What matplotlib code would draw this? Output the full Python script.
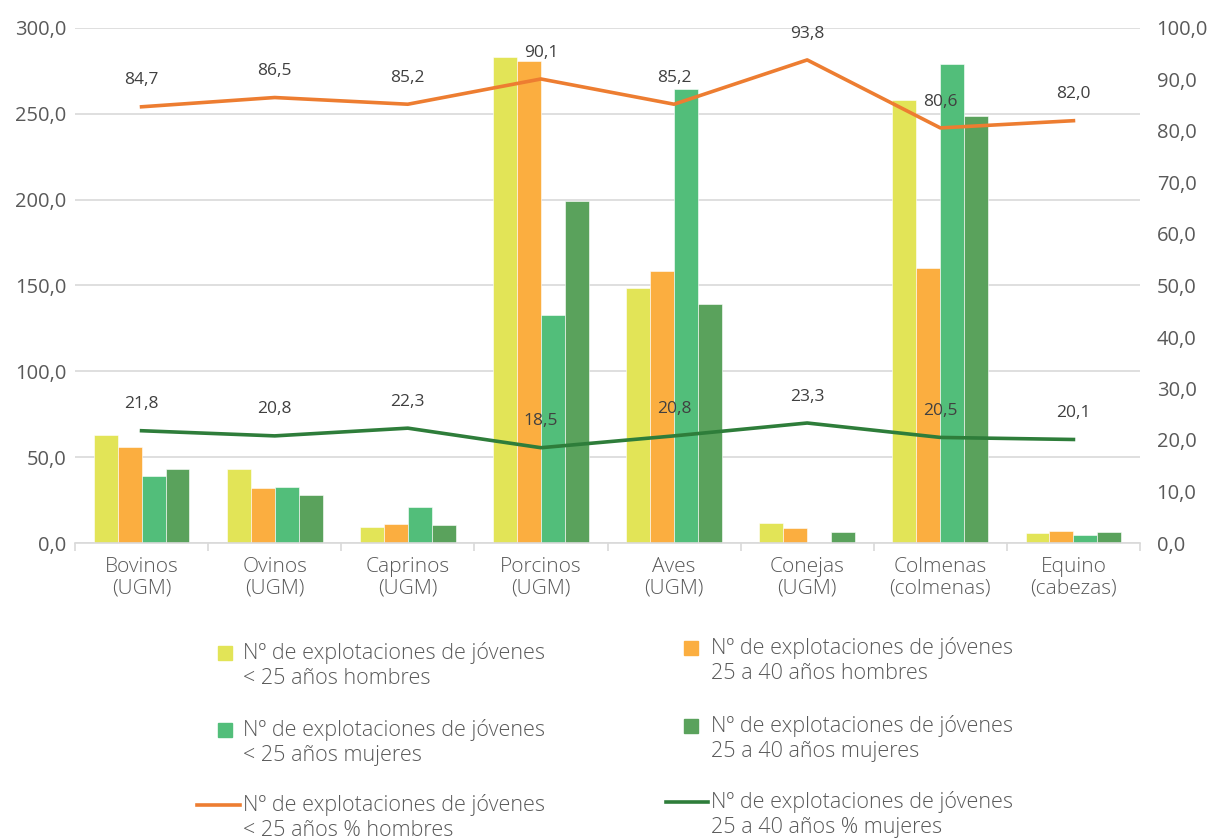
import matplotlib.pyplot as plt
import numpy as np
from matplotlib.patches import Rectangle
from matplotlib.lines import Line2D

plt.rcParams['font.family'] = ['Open Sans', 'DejaVu Sans']

categorias = ["Bovinos\n(UGM)", "Ovinos\n(UGM)", "Caprinos\n(UGM)", "Porcinos\n(UGM)",
              "Aves\n(UGM)", "Conejas\n(UGM)", "Colmenas\n(colmenas)", "Equino\n(cabezas)"]

menos25_hombres = [63.0, 43.1, 9.5, 283.0, 148.5, 11.7, 258.0, 5.6]
de25a40_hombres = [56.0, 31.8, 11.1, 280.6, 158.4, 8.7, 160.2, 6.8]
menos25_mujeres = [38.8, 32.4, 21.0, 132.8, 264.5, 0.0, 279.0, 4.7]
de25a40_mujeres = [43.1, 28.2, 10.5, 199.2, 139.2, 6.2, 248.7, 6.2]

pct_hombres = [84.7, 86.5, 85.2, 90.1, 85.2, 93.8, 80.6, 82.0]
pct_mujeres = [21.8, 20.8, 22.3, 18.5, 20.8, 23.3, 20.5, 20.1]

etiquetas = [
    "Nº de explotaciones de jóvenes\n< 25 años hombres",
    "Nº de explotaciones de jóvenes\n25 a 40 años hombres",
    "Nº de explotaciones de jóvenes\n< 25 años mujeres",
    "Nº de explotaciones de jóvenes\n25 a 40 años mujeres",
    "Nº de explotaciones de jóvenes\n< 25 años % hombres",
    "Nº de explotaciones de jóvenes\n25 a 40 años % mujeres",
]

c_yel, c_ora, c_lgr, c_dgr = "#E2E457", "#FBAE40", "#52BE7A", "#5AA25C"
c_line_o, c_line_g = "#ED7D31", "#2E7D3A"
txt = "#595959"

W, H = 1207, 838
fig = plt.figure(figsize=(W / 100, H / 100), dpi=100)
ax = fig.add_axes([75 / W, 1 - 543 / H, (1140 - 75) / W, (543 - 28) / H])
ax2 = ax.twinx()

x = np.arange(len(categorias))
bw = 0.18
series = [menos25_hombres, de25a40_hombres, menos25_mujeres, de25a40_mujeres]
colores = [c_yel, c_ora, c_lgr, c_dgr]
for i, (s, c) in enumerate(zip(series, colores)):
    ax.bar(x + (i - 1.5) * bw, s, bw, color=c, edgecolor="white", linewidth=0.4, zorder=2)

ax.set_xlim(-0.5, len(categorias) - 0.5)
ax.set_ylim(0, 300)
ax.set_yticks(np.arange(0, 301, 50))
ax.set_yticklabels([f"{v:.1f}".replace(".", ",") for v in np.arange(0, 301, 50)])
ax.grid(axis="y", color="#D9D9D9", linewidth=1.2, zorder=0)
ax.set_axisbelow(True)
for sp in ["top", "left", "right"]:
    ax.spines[sp].set_visible(False)
ax.spines["bottom"].set_color("#D9D9D9")
ax.spines["bottom"].set_linewidth(1.2)
ax.set_xticks(x)
ax.set_xticklabels(categorias, fontsize=15, color=txt, linespacing=1.1, fontweight="light")
ax.set_xticks(np.arange(-0.5, len(categorias), 1), minor=True)
ax.tick_params(axis="x", which="major", length=0, pad=10)
ax.tick_params(axis="x", which="minor", length=6, color="#D9D9D9", width=1.2)
ax.tick_params(axis="y", length=0, labelsize=14.5, labelcolor=txt, pad=6)

ax2.plot(x, pct_hombres, color=c_line_o, linewidth=2.6, zorder=3)
ax2.plot(x, pct_mujeres, color=c_line_g, linewidth=2.6, zorder=3)
for xi, v in zip(x, pct_hombres):
    ax2.annotate(f"{v:.1f}".replace(".", ","), (xi, v), xytext=(0, 19), textcoords="offset points",
                 ha="center", va="center", fontsize=12.5, color="#404040")
for xi, v in zip(x, pct_mujeres):
    ax2.annotate(f"{v:.1f}".replace(".", ","), (xi, v), xytext=(0, 19), textcoords="offset points",
                 ha="center", va="center", fontsize=12.5, color="#404040")
ax2.set_ylim(0, 100)
ax2.set_yticks(np.arange(0, 101, 10))
ax2.set_yticklabels([f"{v:.1f}".replace(".", ",") for v in np.arange(0, 101, 10)])
ax2.tick_params(axis="y", length=0, labelsize=14.5, labelcolor=txt, pad=12)
for sp in ["top", "left", "right", "bottom"]:
    ax2.spines[sp].set_visible(False)


def fx(px):
    return px / W


def fy(py):
    return 1 - py / H


# legend drawn by hand: squares for bars, long strokes for lines
items = [
    ("box", c_yel, 218, 653, 243, etiquetas[0]),
    ("box", c_ora, 684, 648, 711, etiquetas[1]),
    ("box", c_lgr, 218, 730, 243, etiquetas[2]),
    ("box", c_dgr, 684, 726, 711, etiquetas[3]),
    ("line", c_line_o, 197, 805, 243, etiquetas[4]),
    ("line", c_line_g, 666, 802, 711, etiquetas[5]),
]
for kind, col, mx, my, tx, lab in items:
    if kind == "box":
        fig.add_artist(Rectangle((fx(mx), fy(my + 7)), 14 / W, 14 / H, color=col,
                                 transform=fig.transFigure))
    else:
        fig.add_artist(Line2D([fx(mx), fx(tx - 3)], [fy(my), fy(my)], color=col, linewidth=2.6,
                              transform=fig.transFigure))
    fig.text(fx(tx), fy(my + 12.5), lab, ha="left", va="center", fontsize=15.5, color=txt,
             linespacing=1.22, fontweight="light")

fig.savefig("out.png", dpi=100)
